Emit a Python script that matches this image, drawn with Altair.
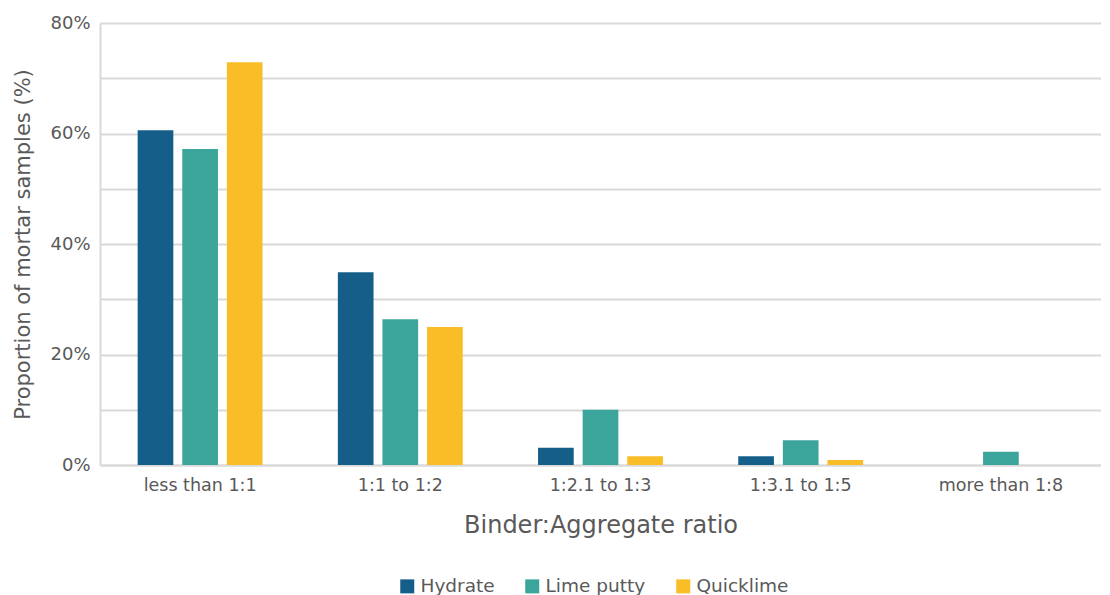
import altair as alt
import pandas as pd

categories = ["less than 1:1", "1:1 to 1:2", "1:2.1 to 1:3", "1:3.1 to 1:5", "more than 1:8"]
binders = ["Hydrate", "Lime putty", "Quicklime"]
hydrate = [60.6, 34.9, 3.1, 1.6, 0.0]
lime_putty = [57.2, 26.4, 10.0, 4.5, 2.4]
quicklime = [72.9, 25.0, 1.6, 0.9, 0.0]
colors = ["#165E8A", "#3BA59C", "#F8BD27"]
y_ticks = [0, 10, 20, 30, 40, 50, 60, 70, 80]

rows = []
for name, series in zip(binders, [hydrate, lime_putty, quicklime]):
    for cat, v in zip(categories, series):
        rows.append({"Ratio": cat, "Binder": name, "Value": v})
df = pd.DataFrame(rows)

FONT = "DejaVu Sans"
GREY = "#595959"
GRID = "#d9d9d9"

chart = alt.Chart(df).mark_bar().encode(
    x=alt.X(
        "Ratio:N",
        sort=categories,
        scale=alt.Scale(paddingInner=0, paddingOuter=0),
        axis=alt.Axis(
            title="Binder:Aggregate ratio",
            labelAngle=0,
            ticks=False,
            domainColor=GRID,
            domainWidth=2,
            labelFontSize=17.5,
            titleFontSize=24,
            labelPadding=11,
            titlePadding=20,
            labelColor=GREY,
            titleColor=GREY,
            titleFontWeight="normal",
            labelFont=FONT,
            titleFont=FONT,
        ),
    ),
    xOffset=alt.XOffset(
        "Binder:N",
        sort=binders,
        scale=alt.Scale(domain=binders, paddingInner=0.2, paddingOuter=0.844),
    ),
    y=alt.Y(
        "Value:Q",
        scale=alt.Scale(domain=[0, 80], nice=False),
        axis=alt.Axis(
            values=y_ticks,
            labelExpr="datum.value % 20 == 0 ? datum.value + '%' : ''",
            title="Proportion of mortar samples (%)",
            ticks=False,
            gridColor=GRID,
            gridWidth=2,
            domainColor=GRID,
            domainWidth=2,
            labelFontSize=18,
            titleFontSize=21,
            labelPadding=10,
            titlePadding=16,
            labelColor=GREY,
            titleColor=GREY,
            titleFontWeight="normal",
            labelFont=FONT,
            titleFont=FONT,
        ),
    ),
    color=alt.Color(
        "Binder:N",
        sort=binders,
        scale=alt.Scale(domain=binders, range=colors),
        legend=alt.Legend(
            orient="none",
            legendX=298,
            legendY=554,
            direction="horizontal",
            title=None,
            symbolType="square",
            symbolSize=196,
            symbolStrokeWidth=0,
            labelFontSize=18.5,
            labelFont=FONT,
            labelColor=GREY,
            columnPadding=28,
            labelOffset=4,
        ),
    ),
).properties(
    width=1001,
    height=442,
    padding={"left": 4, "top": 6, "right": 0, "bottom": 0},
).configure_view(stroke=None)

chart.save("out.html", embed_options={"renderer": "svg", "actions": False})
